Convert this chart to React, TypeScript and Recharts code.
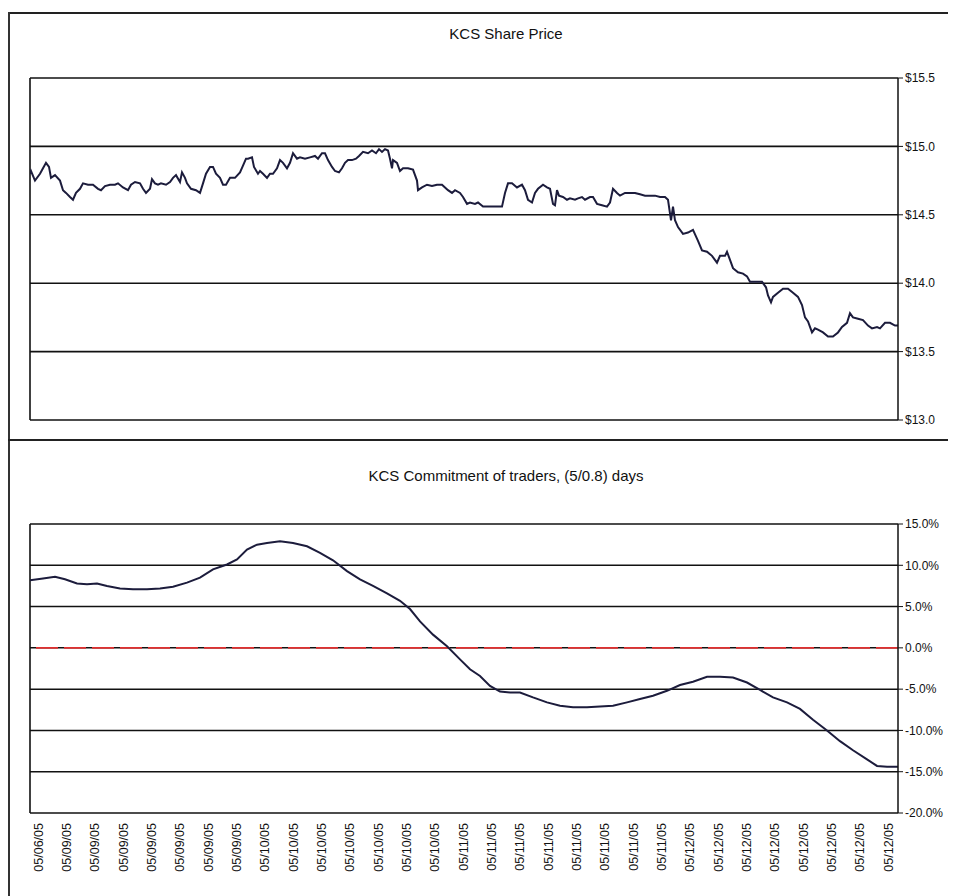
import React from 'react';
import { LineChart, Line, XAxis, YAxis, CartesianGrid, ReferenceLine } from 'recharts';

// Observations: [bar index (intraday bar since start), value]
const priceObs: [number, number][] = [
  [0, 14.8], [1, 14.82], [5, 14.75], [10, 14.8], [13, 14.84], [16, 14.88], [19, 14.85], [21, 14.77], [25, 14.79],
  [30, 14.75], [33, 14.68], [36, 14.66], [40, 14.63], [43, 14.61], [46, 14.66], [50, 14.69], [53, 14.73],
  [58, 14.72], [63, 14.72], [68, 14.69], [71, 14.68], [75, 14.71], [80, 14.72], [85, 14.72], [88, 14.73],
  [93, 14.7], [98, 14.68], [101, 14.72], [105, 14.74], [110, 14.73], [113, 14.69], [116, 14.66], [120, 14.69],
  [122, 14.76], [125, 14.73], [128, 14.72], [131, 14.73], [136, 14.72], [140, 14.74], [143, 14.77], [146, 14.79],
  [150, 14.74], [152, 14.81], [155, 14.77], [157, 14.73], [161, 14.69], [166, 14.68], [170, 14.66], [173, 14.73],
  [176, 14.8], [180, 14.85], [183, 14.85], [186, 14.8], [190, 14.77], [193, 14.72], [196, 14.72], [200, 14.77],
  [205, 14.77], [210, 14.81], [213, 14.86], [216, 14.91], [218, 14.91], [222, 14.92], [224, 14.85], [228, 14.8],
  [230, 14.82], [233, 14.8], [237, 14.77], [240, 14.8], [243, 14.8], [247, 14.84], [250, 14.9], [253, 14.88],
  [257, 14.84], [260, 14.88], [263, 14.95], [267, 14.91], [270, 14.92], [275, 14.91], [280, 14.92], [285, 14.93],
  [288, 14.91], [292, 14.95], [295, 14.95], [298, 14.9], [302, 14.85], [305, 14.82], [309, 14.81], [312, 14.84],
  [315, 14.88], [318, 14.9], [322, 14.9], [326, 14.91], [329, 14.93], [333, 14.96], [338, 14.95], [342, 14.97],
  [346, 14.95], [349, 14.98], [352, 14.96], [355, 14.98], [358, 14.97], [360, 14.91], [362, 14.84], [363, 14.9],
  [367, 14.88], [370, 14.82], [373, 14.84], [378, 14.84], [383, 14.83], [387, 14.75], [388, 14.68], [392, 14.7],
  [397, 14.72], [402, 14.71], [407, 14.72], [412, 14.72], [415, 14.7], [418, 14.68], [422, 14.66], [425, 14.68],
  [430, 14.66], [433, 14.63], [437, 14.58], [440, 14.59], [445, 14.58], [448, 14.59], [453, 14.56], [460, 14.56],
  [467, 14.56], [472, 14.56], [475, 14.66], [478, 14.73], [482, 14.73], [487, 14.7], [492, 14.72], [495, 14.68],
  [498, 14.61], [502, 14.59], [505, 14.66], [508, 14.69], [513, 14.72], [517, 14.7], [520, 14.69], [523, 14.58],
  [525, 14.57], [527, 14.68], [529, 14.64], [533, 14.63], [537, 14.61], [540, 14.62], [545, 14.61], [548, 14.62],
  [552, 14.63], [555, 14.61], [560, 14.63], [563, 14.63], [567, 14.58], [572, 14.57], [577, 14.56], [580, 14.59],
  [583, 14.69], [587, 14.66], [590, 14.64], [595, 14.66], [600, 14.66], [605, 14.66], [610, 14.65], [615, 14.64],
  [620, 14.64], [625, 14.64], [630, 14.63], [635, 14.63], [638, 14.61], [641, 14.46], [643, 14.56], [645, 14.46],
  [648, 14.41], [653, 14.36], [658, 14.37], [663, 14.39], [668, 14.31], [672, 14.24], [677, 14.23], [682, 14.2],
  [687, 14.15], [690, 14.2], [695, 14.2], [697, 14.23], [700, 14.17], [703, 14.11], [708, 14.08], [713, 14.07],
  [717, 14.05], [720, 14.01], [725, 14.01], [732, 14.01], [736, 13.97], [738, 13.91], [741, 13.86], [743, 13.9],
  [748, 13.93], [753, 13.96], [758, 13.96], [763, 13.93], [768, 13.9], [772, 13.84], [775, 13.75], [778, 13.72],
  [782, 13.64], [785, 13.67], [788, 13.66], [793, 13.64], [798, 13.61], [803, 13.61], [808, 13.64], [812, 13.68],
  [817, 13.71], [820, 13.78], [823, 13.75], [828, 13.74], [833, 13.73], [838, 13.69], [842, 13.67], [847, 13.68],
  [850, 13.67], [855, 13.71], [860, 13.71], [865, 13.69], [868, 13.69],
];

const cotObs: [number, number][] = [
  [0, 8.2], [13, 8.4], [25, 8.6], [35, 8.3], [47, 7.8], [57, 7.7], [67, 7.8], [77, 7.5], [90, 7.2], [103, 7.1],
  [117, 7.1], [130, 7.2], [143, 7.4], [157, 7.9], [170, 8.5], [183, 9.5], [197, 10.1], [207, 10.7], [217, 11.9],
  [227, 12.5], [237, 12.7], [250, 12.9], [263, 12.7], [277, 12.3], [290, 11.5], [303, 10.6], [317, 9.3],
  [330, 8.3], [343, 7.5], [357, 6.6], [370, 5.7], [380, 4.7], [390, 3.2], [403, 1.6], [417, 0.2], [430, -1.4],
  [440, -2.6], [450, -3.4], [460, -4.6], [470, -5.3], [480, -5.4], [490, -5.4], [503, -6.0], [517, -6.6],
  [530, -7.0], [543, -7.2], [557, -7.2], [570, -7.1], [583, -7.0], [597, -6.6], [610, -6.2], [623, -5.8],
  [637, -5.2], [650, -4.5], [663, -4.1], [677, -3.5], [690, -3.5], [703, -3.6], [717, -4.2], [730, -5.1],
  [743, -6.0], [757, -6.6], [770, -7.4], [783, -8.7], [797, -10.0], [810, -11.3], [823, -12.4], [837, -13.5],
  [847, -14.3], [857, -14.4], [865, -14.4], [868, -14.4],
];

const tickLabels = [
  '05/06/05',
  '05/09/05', '05/09/05', '05/09/05', '05/09/05', '05/09/05', '05/09/05', '05/09/05',
  '05/10/05', '05/10/05', '05/10/05', '05/10/05', '05/10/05', '05/10/05', '05/10/05',
  '05/11/05', '05/11/05', '05/11/05', '05/11/05', '05/11/05', '05/11/05', '05/11/05', '05/11/05',
  '05/12/05', '05/12/05', '05/12/05', '05/12/05', '05/12/05', '05/12/05', '05/12/05', '05/12/05',
];

const priceTicks = [13, 13.5, 14, 14.5, 15, 15.5];
const cotTicks = [-20, -15, -10, -5, 0, 5, 10, 15];
const xDomain: [number, number] = [0, 868];
const firstTickBar = 8;
const tickStep = 850 / 30;

const priceData = priceObs.map(([t, p]) => ({ t, p }));
const cotData = cotObs.map(([t, v]) => ({ t, v }));
const xTicks = tickLabels.map((_, i) => firstTickBar + i * tickStep);

const FONT = '"Liberation Sans Narrow", "Arial Narrow", "Liberation Sans", Arial, sans-serif';

const DateTick = (props: any) => {
  const { x, y, payload } = props;
  let idx = props.index;
  if (typeof idx !== 'number') idx = xTicks.findIndex((v) => Math.abs(v - payload.value) < 0.01);
  return (
    <g transform={`translate(${x},${y})`}>
      <text transform="rotate(-90)" textAnchor="end" dy="0.36em" fontSize={12.5} fill="#111" fontFamily={FONT}>
        {tickLabels[idx]}
      </text>
    </g>
  );
};

const line = (style: React.CSSProperties): React.CSSProperties => ({ position: 'absolute', ...style });

export default function App() {
  return (
    <div style={{ position: 'relative', width: 948, height: 888, background: '#fff', fontFamily: FONT }}>
      {/* frame */}
      <div style={line({ left: 1, top: 4, width: 940, borderTop: '2px solid #222' })} />
      <div style={line({ left: 0, top: 4, height: 884, borderLeft: '2px solid #333' })} />
      <div style={line({ left: 0, top: 431, width: 948, borderTop: '2px solid #222' })} />

      <div style={line({ left: 0, top: 17, width: 996, textAlign: 'center', fontSize: 15, color: '#111' })}>
        KCS Share Price
      </div>
      <div style={line({ left: 0, top: 459, width: 996, textAlign: 'center', fontSize: 15, color: '#111' })}>
        KCS Commitment of traders, (5/0.8) days
      </div>

      <div style={line({ left: 0, top: 0 })}>
        <LineChart width={948} height={432} data={priceData} margin={{ top: 70, right: 8, left: 22, bottom: 20 }}>
          <CartesianGrid vertical={false} stroke="#111" strokeWidth={1.6} strokeOpacity={1} />
          <XAxis type="number" dataKey="t" domain={xDomain} hide allowDataOverflow />
          <YAxis
            orientation="right"
            domain={[13, 15.5]}
            ticks={priceTicks}
            interval={0}
            width={50}
            axisLine={{ stroke: '#111', strokeWidth: 1.5 }}
            tickLine={{ stroke: '#111' }}
            tickSize={5}
            tick={{ fontSize: 12, fill: '#111', fontFamily: FONT }}
            tickFormatter={(v: number) => `$${v.toFixed(1)}`}
          />
          <ReferenceLine x={xDomain[0]} stroke="#111" strokeWidth={1.6} />
          <Line type="linear" dataKey="p" stroke="#1c1c3c" strokeWidth={2} dot={false} isAnimationActive={false} />
        </LineChart>
      </div>

      <div style={line({ left: 0, top: 432 })}>
        <LineChart width={948} height={456} data={cotData} margin={{ top: 84, right: 8, left: 22, bottom: 5 }}>
          <CartesianGrid vertical={false} stroke="#111" strokeWidth={1.5} strokeOpacity={1} />
          <XAxis
            type="number"
            dataKey="t"
            domain={xDomain}
            ticks={xTicks}
            interval={0}
            height={78}
            axisLine={false}
            tickLine={false}
            tickSize={8}
            tickMargin={2}
            tick={<DateTick />}
            allowDataOverflow
          />
          <YAxis
            orientation="right"
            domain={[-20, 15]}
            ticks={cotTicks}
            interval={0}
            width={50}
            axisLine={{ stroke: '#111', strokeWidth: 1.5 }}
            tickLine={{ stroke: '#111' }}
            tickSize={5}
            tick={{ fontSize: 12, fill: '#111', fontFamily: FONT }}
            tickFormatter={(v: number) => `${v.toFixed(1)}%`}
          />
          <ReferenceLine x={xDomain[0]} stroke="#111" strokeWidth={1.6} />
          <ReferenceLine y={0} stroke="#e03030" strokeWidth={1.8} strokeDasharray="22 6" />
          <Line type="linear" dataKey="v" stroke="#1c1c3c" strokeWidth={2} dot={false} isAnimationActive={false} />
        </LineChart>
      </div>
    </div>
  );
}
